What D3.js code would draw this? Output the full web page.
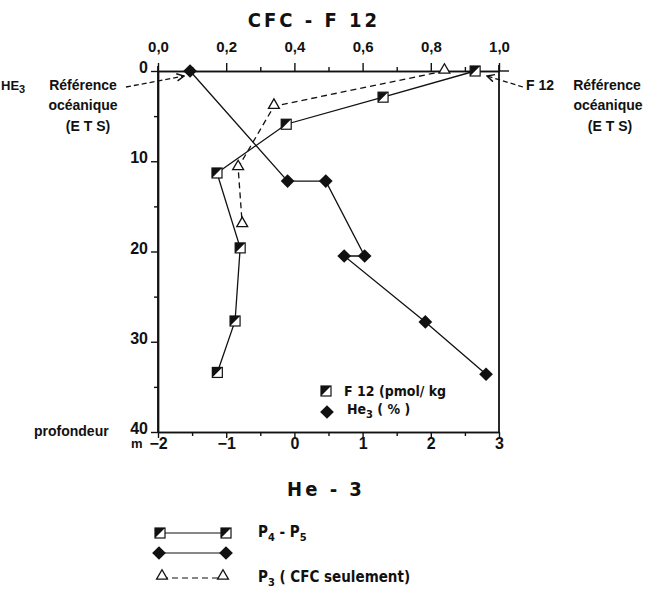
<!DOCTYPE html>
<html>
<head>
<meta charset="utf-8">
<script src="https://cdn.jsdelivr.net/npm/d3@7"></script>
<style>
  body { margin: 0; background: #fff; }
  text { font-family: "Liberation Sans", Arial, sans-serif; font-weight: bold; fill: #111; }
  .cond { font-family: "Liberation Sans Narrow", "DejaVu Sans Condensed", "Liberation Sans", sans-serif; }
  .axis path, .axis line { stroke: #111; stroke-width: 1.4; }
</style>
</head>
<body>
<div id="container"></div>
<script>
/* DATA */
// F12 (pmol/kg), stations P4 - P5
const f12Depth = [0, 2.9, 5.9, 11.3, 19.6, 27.7, 33.4];
const f12Value = [0.93, 0.66, 0.376, 0.173, 0.241, 0.226, 0.174];
// He3 (%), stations P4 - P5
const he3Depth = [0, 12.2, 12.2, 20.5, 20.5, 27.8, 33.6];
const he3Value = [-1.53, -0.10, 0.46, 1.03, 0.73, 1.92, 2.81];
// F12, station P3 (CFC seulement)
const p3Depth = [0, 3.9, 10.7, 17.0];
const p3Value = [0.84, 0.34, 0.235, 0.247];

const topTicks = [0, 0.2, 0.4, 0.6, 0.8, 1.0];
const topTickLabels = ["0,0", "0,2", "0,4", "0,6", "0,8", "1,0"];
const bottomTicks = [-2, -1, 0, 1, 2, 3];
const depthTicks = [0, 10, 20, 30, 40];

/* CONSTANTS */
const width = 659, height = 591;
const plotLeft = 158, plotRight = 499, plotTop = 71, plotBottom = 432;

const svg = d3.select("#container").append("svg")
  .attr("width", width).attr("height", height);

/* SCALES */
const xTop = d3.scaleLinear().domain([0, 1]).range([plotLeft, plotRight]);
const xBottom = d3.scaleLinear().domain([-2, 3]).range([plotLeft, plotRight]);
const y = d3.scaleLinear().domain([0, 40]).range([plotTop, plotBottom]);

/* AXES */
// top axis (CFC - F12)
svg.append("g").attr("class", "axis")
  .attr("transform", `translate(0,${plotTop})`)
  .call(d3.axisTop(xTop).tickValues(d3.range(0.1, 1, 0.2)).tickSize(4).tickFormat("").tickSizeOuter(0));
svg.append("g").attr("class", "axis")
  .attr("transform", `translate(0,${plotTop})`)
  .call(d3.axisTop(xTop).tickValues(topTicks).tickSize(8).tickSizeOuter(0)
    .tickFormat((d, i) => topTickLabels[i]))
  .call(g => g.selectAll("text").attr("font-size", 15).attr("font-weight", "normal").attr("dy", "-0.55em"));

// bottom axis (He - 3)
svg.append("g").attr("class", "axis")
  .attr("transform", `translate(0,${plotBottom})`)
  .call(d3.axisBottom(xBottom).tickValues(d3.range(-1.5, 3, 1)).tickSize(4).tickFormat("").tickSizeOuter(0));
svg.append("g").attr("class", "axis")
  .attr("transform", `translate(0,${plotBottom})`)
  .call(d3.axisBottom(xBottom).tickValues(bottomTicks).tickSize(6).tickSizeOuter(0)
    .tickFormat(d => d < 0 ? "\u2212" + Math.abs(d) : d))
  .call(g => g.selectAll("text").attr("font-size", 16).attr("dy", "0.5em"));

// left axis (profondeur)
svg.append("g").attr("class", "axis")
  .attr("transform", `translate(${plotLeft},0)`)
  .call(d3.axisLeft(y).tickValues(d3.range(5, 40, 10)).tickSize(4).tickFormat("").tickSizeOuter(0));
svg.append("g").attr("class", "axis")
  .attr("transform", `translate(${plotLeft},0)`)
  .call(d3.axisLeft(y).tickValues(depthTicks).tickSize(7).tickSizeOuter(0))
  .call(g => g.selectAll("text").attr("font-size", 16).attr("x", -10).attr("dy", "0.1em"));

// frame extensions
svg.append("line").attr("x1", plotLeft).attr("x2", plotLeft).attr("y1", plotTop - 5).attr("y2", plotBottom).attr("stroke", "#111").attr("stroke-width", 1.8);
svg.append("line").attr("x1", plotRight).attr("x2", plotRight).attr("y1", plotTop - 6).attr("y2", plotBottom).attr("stroke", "#111").attr("stroke-width", 1.8);
svg.append("line").attr("x1", plotRight).attr("x2", plotRight + 10).attr("y1", plotTop).attr("y2", plotTop).attr("stroke", "#111").attr("stroke-width", 1.4);

/* TITLES */
svg.append("text").attr("class", "cond").attr("x", 314).attr("y", 27)
  .attr("text-anchor", "middle").attr("font-size", 20).attr("letter-spacing", 3)
  .text("CFC - F 12");
svg.append("text").attr("class", "cond").attr("x", 326).attr("y", 496)
  .attr("text-anchor", "middle").attr("font-size", 20).attr("letter-spacing", 3)
  .text("He - 3");
svg.append("text").attr("x", 34).attr("y", 436).attr("font-size", 14).text("profondeur");
svg.append("text").attr("x", 131).attr("y", 448).attr("font-size", 13).text("m");

/* MARKERS */
function squareMarker(g, cx, cy, s) {
  g.append("rect").attr("x", cx - s / 2).attr("y", cy - s / 2).attr("width", s).attr("height", s)
    .attr("fill", "#fff").attr("stroke", "#111").attr("stroke-width", 1.2);
  g.append("path").attr("d", `M${cx - s / 2},${cy - s / 2}H${cx + s / 2}L${cx - s / 2},${cy + s / 2}Z`).attr("fill", "#111");
}
const diamond = d3.symbol().type(d3.symbolDiamond2).size(120);
const triangle = d3.symbol().type(d3.symbolTriangle2).size(85);

const lineF = (vals, depths, xs) => d3.line().x((d, i) => xs(vals[i])).y((d, i) => y(depths[i]))(vals);

// P3 triangles, dashed
svg.append("path").attr("d", lineF(p3Value, p3Depth, xTop))
  .attr("fill", "none").attr("stroke", "#111").attr("stroke-width", 1.3).attr("stroke-dasharray", "6,4");
// F12 squares
svg.append("path").attr("d", lineF(f12Value, f12Depth, xTop))
  .attr("fill", "none").attr("stroke", "#111").attr("stroke-width", 1.3);
// He3 diamonds
svg.append("path").attr("d", lineF(he3Value, he3Depth, xBottom))
  .attr("fill", "none").attr("stroke", "#111").attr("stroke-width", 1.3);

svg.selectAll(".tri").data(p3Value).join("path").attr("class", "tri")
  .attr("d", triangle)
  .attr("transform", (d, i) => `translate(${xTop(d)},${y(p3Depth[i]) - 1})`)
  .attr("fill", "#fff").attr("stroke", "#111").attr("stroke-width", 1.3);
const sq = svg.append("g");
f12Value.forEach((d, i) => squareMarker(sq, xTop(d), y(f12Depth[i]), 10));
svg.selectAll(".dia").data(he3Value).join("path").attr("class", "dia")
  .attr("d", diamond)
  .attr("transform", (d, i) => `translate(${xBottom(d)},${y(he3Depth[i])})`)
  .attr("fill", "#111");

/* REFERENCE ANNOTATIONS */
svg.append("defs").append("marker").attr("id", "arr")
  .attr("viewBox", "0 0 10 10").attr("refX", 9).attr("refY", 5)
  .attr("markerWidth", 7).attr("markerHeight", 7).attr("orient", "auto")
  .append("path").attr("d", "M1,1L9,5L1,9").attr("fill", "none").attr("stroke", "#111").attr("stroke-width", 1.6);

svg.append("line").attr("x1", 126).attr("y1", 87).attr("x2", xBottom(he3Value[0]) - 6).attr("y2", 76)
  .attr("stroke", "#111").attr("stroke-width", 1.3).attr("stroke-dasharray", "5,3").attr("marker-end", "url(#arr)");
svg.append("line").attr("x1", 523).attr("y1", 87).attr("x2", 487).attr("y2", 76)
  .attr("stroke", "#111").attr("stroke-width", 1.3).attr("stroke-dasharray", "5,3").attr("marker-end", "url(#arr)");

const leftNote = svg.append("text").attr("x", 1).attr("y", 90).attr("font-size", 13);
leftNote.append("tspan").text("HE");
leftNote.append("tspan").attr("dy", 3).attr("font-size", 11).text("3");
svg.append("text").attr("x", 83).attr("y", 90).attr("text-anchor", "middle").attr("font-size", 14).text("Référence");
svg.append("text").attr("x", 83).attr("y", 110).attr("text-anchor", "middle").attr("font-size", 14).text("océanique");
svg.append("text").attr("x", 88).attr("y", 131).attr("text-anchor", "middle").attr("font-size", 14).text("(E T S)");

svg.append("text").attr("x", 526).attr("y", 90).attr("font-size", 14).text("F 12");
svg.append("text").attr("x", 607).attr("y", 90).attr("text-anchor", "middle").attr("font-size", 14).text("Référence");
svg.append("text").attr("x", 608).attr("y", 110).attr("text-anchor", "middle").attr("font-size", 14).text("océanique");
svg.append("text").attr("x", 610).attr("y", 131).attr("text-anchor", "middle").attr("font-size", 14).text("(E T S)");

/* INNER LEGEND */
squareMarker(svg, 326, 391, 10);
svg.append("text").attr("class", "cond").attr("x", 344).attr("y", 396).attr("font-size", 14).text("F 12 (pmol/ kg");
svg.append("path").attr("d", diamond).attr("transform", "translate(327,412)").attr("fill", "#111");
const heLeg = svg.append("text").attr("class", "cond").attr("x", 347).attr("y", 414).attr("font-size", 14);
heLeg.append("tspan").text("He");
heLeg.append("tspan").attr("dy", 4).attr("font-size", 11).text("3");
heLeg.append("tspan").attr("dy", -4).text(" ( % )");

/* BOTTOM LEGEND */
const lg = svg.append("g");
lg.append("line").attr("x1", 160).attr("x2", 226).attr("y1", 533).attr("y2", 533).attr("stroke", "#111").attr("stroke-width", 1.2);
squareMarker(lg, 160, 533, 10);
squareMarker(lg, 226, 533, 10);
lg.append("line").attr("x1", 159).attr("x2", 226).attr("y1", 553).attr("y2", 553).attr("stroke", "#111").attr("stroke-width", 1.2);
lg.append("path").attr("d", diamond).attr("transform", "translate(159,553)").attr("fill", "#111");
lg.append("path").attr("d", diamond).attr("transform", "translate(226,553)").attr("fill", "#111");
lg.append("line").attr("x1", 162).attr("x2", 223).attr("y1", 578).attr("y2", 578).attr("stroke", "#111").attr("stroke-width", 1.2).attr("stroke-dasharray", "6,4");
lg.append("path").attr("d", triangle).attr("transform", "translate(162,576)").attr("fill", "#fff").attr("stroke", "#111").attr("stroke-width", 1.3);
lg.append("path").attr("d", triangle).attr("transform", "translate(223,576)").attr("fill", "#fff").attr("stroke", "#111").attr("stroke-width", 1.3);

const p45 = lg.append("text").attr("class", "cond").attr("x", 258).attr("y", 537).attr("font-size", 15);
p45.append("tspan").text("P");
p45.append("tspan").attr("dy", 4).attr("font-size", 11).text("4");
p45.append("tspan").attr("dy", -4).text(" - P");
p45.append("tspan").attr("dy", 4).attr("font-size", 11).text("5");
const p3 = lg.append("text").attr("class", "cond").attr("x", 258).attr("y", 582).attr("font-size", 15);
p3.append("tspan").text("P");
p3.append("tspan").attr("dy", 4).attr("font-size", 11).text("3");
p3.append("tspan").attr("dy", -4).text("  ( CFC seulement)");
</script>
</body>
</html>
